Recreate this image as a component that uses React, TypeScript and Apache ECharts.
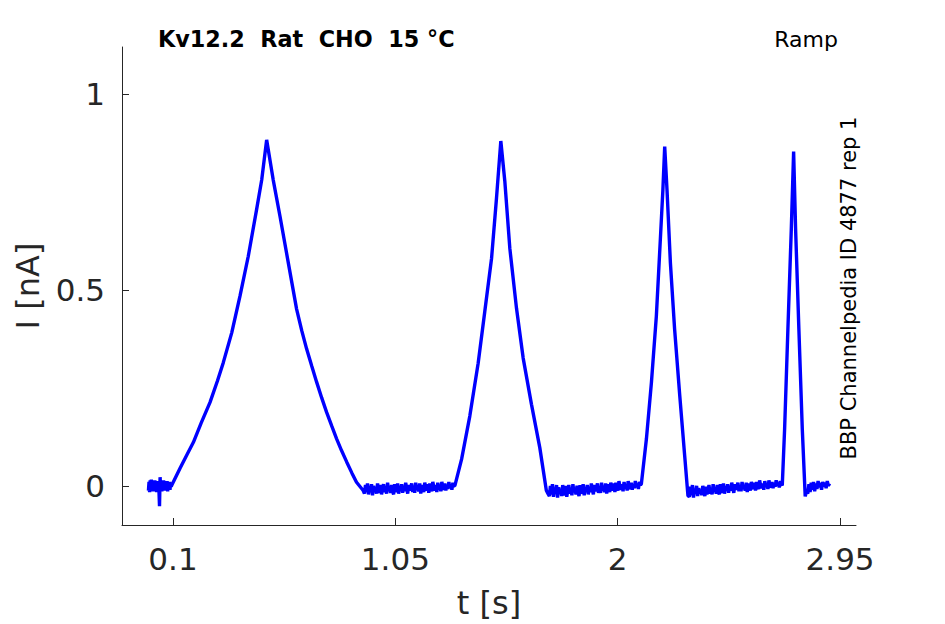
import React, { useEffect, useRef } from "react";
import * as echarts from "echarts";

// Tick labels
const xTicks = [0.1, 1.05, 2, 2.95];
const yTicks = [0, 0.5, 1];

// Ramp responses: [t (s), I (nA)]
const ramp1 = [[0.095, 0.002], [0.13, 0.045], [0.16, 0.08], [0.187, 0.111], [0.22, 0.16], [0.258, 0.213], [0.29, 0.268], [0.315, 0.315], [0.351, 0.391], [0.386, 0.484], [0.4215, 0.586], [0.457, 0.705], [0.479, 0.781], [0.5, 0.883], [0.528, 0.781], [0.557, 0.688], [0.592, 0.571], [0.628, 0.451], [0.65, 0.396], [0.671, 0.349], [0.693, 0.305], [0.714, 0.264], [0.735, 0.225], [0.756, 0.188], [0.778, 0.153], [0.799, 0.12], [0.82, 0.09], [0.842, 0.061], [0.864, 0.033], [0.884, 0.009], [0.9125, -0.012]];
const ramp2 = [[1.304, 0.0], [1.333, 0.068], [1.368, 0.178], [1.4035, 0.312], [1.432, 0.445], [1.461, 0.581], [1.482, 0.734], [1.5005, 0.88], [1.5175, 0.778], [1.539, 0.606], [1.5675, 0.453], [1.596, 0.326], [1.6315, 0.208], [1.667, 0.0975], [1.695, -0.012], [1.702, -0.02]];
const ramp3 = [[2.101, 0.005], [2.1226, 0.12], [2.144, 0.264], [2.165, 0.433], [2.182, 0.628], [2.193, 0.756], [2.2007, 0.866], [2.2105, 0.756], [2.225, 0.569], [2.243, 0.4], [2.265, 0.23], [2.286, 0.077], [2.3, -0.025]];
const ramp4 = [[2.703, 0.001], [2.713, 0.145], [2.727, 0.399], [2.7415, 0.654], [2.7515, 0.853], [2.76, 0.654], [2.774, 0.399], [2.7885, 0.145], [2.801, -0.027], [2.806, -0.015]];

// Baseline (holding) segments: start/end time and sampled values in pA
const baseA = { t0: -0.005, t1: 0.092, pA: [-12, 10, -16, 14, -6, 16, -10, 8, -14, 12, -4, 14, -12, 6, -16, 10, -6, 12, -10, -52, 22, -10, 10, -14, 8, -6, 14, -10, 4, -12, 10, -8, 12, -14, 6, -6, 10, -10, 6, -2] };
const baseB = { t0: 0.918, t1: 1.3, pA: [
  -20, 2, -16, 6, -22, -2, -12, 4, -24, 0,
  -14, -4, -20, 6, -10, -18, 2, -22, -6, 4,
  -16, -2, -20, 8, -12, -4, -18, 2, -14, -22,
  4, -8, -16, 6, -20, -2, -10, 4, -18, 0,
  -14, 8, -6, -20, 2, -12, -4, 6, -16, 0,
  -18, 8, -10, -2, -14, 6, -20, 2, -8, -16,
  8, -4, -12, 4, -18, 6, -6, -14, 10, -2,
  -12, 2, -16, 8, -8, 0, -14, 10, -4, -10,
  6, -12, 2, -8, 10, -6, 4, -10, 8, 0] };
const baseC = { t0: 1.708, t1: 2.097, pA: [
  -26, 0, -22, 4, -28, -6, -16, 2, -30, -4,
  -18, -8, -26, 2, -14, -24, 0, -28, -10, 2,
  -20, -6, -24, 4, -16, -8, -22, 0, -18, -26,
  2, -12, -20, 4, -24, -4, -14, 2, -22, -2,
  -16, 6, -10, -22, 2, -14, -6, 6, -18, -2,
  -18, 8, -12, -2, -16, 6, -20, 4, -8, -16,
  8, -4, -12, 6, -16, 8, -6, -12, 12, -2,
  -10, 4, -14, 10, -6, 2, -12, 12, -2, -8,
  8, -10, 4, -6, 12, -4, 6, -8, 10, 2] };
const baseD = { t0: 2.306, t1: 2.699, pA: [
  -28, -2, -24, 2, -30, -8, -18, 0, -26, -6,
  -20, -10, -24, 0, -16, -26, -2, -22, -10, 2,
  -20, -6, -22, 4, -14, -8, -20, 2, -16, -22,
  4, -10, -18, 6, -20, -2, -12, 4, -18, 0,
  -12, 8, -6, -18, 4, -10, -2, 8, -14, 2,
  -14, 10, -8, 0, -12, 8, -16, 6, -4, -12,
  10, -2, -8, 8, -12, 10, -2, -8, 14, 0,
  -6, 6, -10, 12, -2, 4, -8, 14, 0, -4,
  10, -6, 6, -2, 14, 0, 8, -4, 12, 4] };
const baseE = { t0: 2.812, t1: 2.905, pA: [-20, 4, -16, 8, -10, 10, -14, 6, -8, 12, -4, 8, -10, 10, -2, 8, -6, 12, 0, 6] };

function samples(seg: { t0: number; t1: number; pA: number[] }) {
  const n = seg.pA.length;
  return seg.pA.map((v, i) => [seg.t0 + ((seg.t1 - seg.t0) * i) / (n - 1), v / 1000]);
}

const trace = [
  ...samples(baseA), ...ramp1,
  ...samples(baseB), ...ramp2,
  ...samples(baseC), ...ramp3,
  ...samples(baseD), ...ramp4,
  ...samples(baseE),
];

const FONT = "DejaVu Sans";
const AX = "#262626";

export default function App() {
  const ref = useRef<HTMLDivElement>(null);
  useEffect(() => {
    if (!ref.current) return;
    const chart = echarts.init(ref.current, undefined, { renderer: "svg" });
    chart.setOption({
      animation: false,
      backgroundColor: "#ffffff",
      grid: { left: 122, right: 89, top: 47, bottom: 98 },
      xAxis: {
        type: "value",
        min: -0.118,
        max: 3.018,
        name: "t [s]",
        nameLocation: "middle",
        nameGap: 62,
        nameTextStyle: { fontFamily: FONT, fontSize: 32, color: AX },
        axisLine: { show: true, onZero: false, lineStyle: { color: AX, width: 1 } },
        axisTick: { show: true, inside: true, length: 7, customValues: xTicks, lineStyle: { color: AX } },
        axisLabel: { customValues: xTicks, formatter: (v: number) => String(v), fontFamily: FONT, fontSize: 31, color: AX, margin: 18 },
        splitLine: { show: false },
      },
      yAxis: {
        type: "value",
        min: -0.1,
        max: 1.12,
        name: "I [nA]",
        nameLocation: "middle",
        nameGap: 78,
        nameTextStyle: { fontFamily: FONT, fontSize: 32, color: AX },
        axisLine: { show: true, onZero: false, lineStyle: { color: AX, width: 1 } },
        axisTick: { show: true, inside: true, length: 7, customValues: yTicks, lineStyle: { color: AX } },
        axisLabel: { customValues: yTicks, formatter: (v: number) => String(v), fontFamily: FONT, fontSize: 31, color: AX, margin: 17 },
        splitLine: { show: false },
      },
      series: [
        {
          type: "line",
          data: trace,
          showSymbol: false,
          symbol: "none",
          lineStyle: { color: "#0000ff", width: 3.4 },
          silent: true,
        },
      ],
      graphic: [
        {
          type: "text",
          left: 158,
          top: 28,
          style: { text: "Kv12.2  Rat  CHO  15 °C", fontFamily: FONT, fontSize: 22.3, fontWeight: "bold", fill: "#000" },
        },
        {
          type: "text",
          x: 838,
          y: 39,
          style: { text: "Ramp", fontFamily: FONT, fontSize: 22, fill: "#000", align: "right", verticalAlign: "middle" },
        },
        {
          type: "text",
          x: 849,
          y: 288,
          rotation: Math.PI / 2,
          style: { text: "BBP Channelpedia ID 4877 rep 1", fontFamily: FONT, fontSize: 21, fill: "#000", align: "center", verticalAlign: "middle" },
        },
      ],
    });
    return () => chart.dispose();
  }, []);
  return <div ref={ref} style={{ position: "fixed", left: 0, top: 0, width: 945, height: 624, background: "#fff" }} />;
}
